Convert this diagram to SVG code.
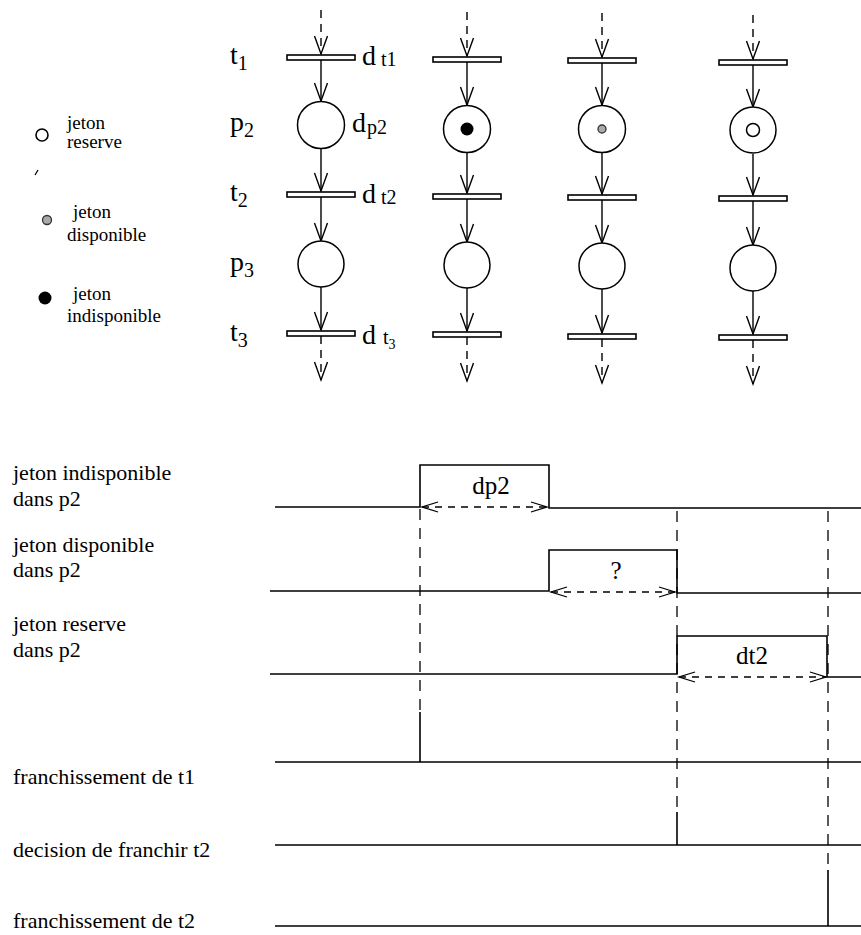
<svg xmlns="http://www.w3.org/2000/svg" width="861" height="935" viewBox="0 0 861 935">
<defs>
<marker id="v" markerUnits="userSpaceOnUse" markerWidth="24" markerHeight="16" refX="18" refY="7" orient="auto" overflow="visible">
<path d="M0,0.5 L18,7 L0,13.5" fill="none" stroke="#000" stroke-width="1.4" stroke-dasharray="none"/>
</marker>
<marker id="lt" markerUnits="userSpaceOnUse" markerWidth="20" markerHeight="14" refX="16" refY="6" orient="auto-start-reverse" overflow="visible">
<path d="M0,1 L16,6 L0,11" fill="none" stroke="#000" stroke-width="1.3" stroke-dasharray="none"/>
</marker>
</defs>
<style>
text{font-family:"Liberation Serif","Times New Roman",serif;fill:#000}
.lbl{font-size:28px}
.sub{font-size:20px}
.sub2{font-size:14px}
.leg{font-size:19px}
.tl{font-size:22px}
.dl{font-size:25px}
.bar{fill:#fff;stroke:#000;stroke-width:1.6}
.pl{fill:#fff;stroke:#000;stroke-width:1.5}
.arc{stroke:#000;stroke-width:1.4;fill:none;marker-end:url(#v)}
.dash{stroke-dasharray:8 6}
.sig{stroke:#000;stroke-width:1.6;fill:none}
.vd{stroke:#000;stroke-width:1.3;stroke-dasharray:11 8;fill:none}
.da{stroke:#000;stroke-width:1.3;stroke-dasharray:7 6;fill:none;marker-start:url(#lt);marker-end:url(#lt)}
</style>

<g id="legend">
<circle cx="42" cy="135" r="6" fill="#fff" stroke="#000" stroke-width="1.6"/>
<text class="leg" x="67" y="129">jeton</text>
<text class="leg" x="67" y="148">reserve</text>
<line x1="35" y1="175" x2="38" y2="170" stroke="#000" stroke-width="1.3"/>
<circle cx="47" cy="220" r="4.5" fill="#aaa" stroke="#333" stroke-width="1.3"/>
<text class="leg" x="73" y="218">jeton</text>
<text class="leg" x="67" y="241">disponible</text>
<circle cx="45" cy="298" r="6.5" fill="#000"/>
<text class="leg" x="73" y="300">jeton</text>
<text class="leg" x="67" y="322">indisponible</text>
</g>

<g id="net-labels">
<text class="lbl" x="230" y="64">t<tspan class="sub" dy="6">1</tspan></text>
<text class="lbl" x="230" y="131">p<tspan class="sub" dy="6">2</tspan></text>
<text class="lbl" x="230" y="201">t<tspan class="sub" dy="6">2</tspan></text>
<text class="lbl" x="230" y="271">p<tspan class="sub" dy="6">3</tspan></text>
<text class="lbl" x="230" y="341">t<tspan class="sub" dy="6">3</tspan></text>
<text class="lbl" x="362" y="65">d<tspan class="sub" dx="5" dy="1">t1</tspan></text>
<text class="lbl" x="352" y="132">d<tspan class="sub" dx="1" dy="2">p2</tspan></text>
<text class="lbl" x="362" y="203">d<tspan class="sub" dx="5" dy="1">t2</tspan></text>
<text class="lbl" x="362" y="344">d<tspan class="sub" dx="7" dy="0">t</tspan><tspan class="sub2" dy="5">3</tspan></text>
</g>

<g id="arcs">
<line class="arc dash" x1="321" y1="10" x2="321" y2="54"/>
<line class="arc" x1="321" y1="60" x2="321" y2="101"/>
<line class="arc" x1="321" y1="149" x2="321" y2="191"/>
<line class="arc" x1="321" y1="197" x2="321" y2="241"/>
<line class="arc" x1="321" y1="287" x2="321" y2="330"/>
<line class="arc dash" x1="321" y1="336" x2="321" y2="380"/>

<line class="arc dash" x1="467" y1="12" x2="467" y2="56"/>
<line class="arc" x1="467" y1="62" x2="467" y2="105"/>
<line class="arc" x1="467" y1="153" x2="467" y2="193"/>
<line class="arc" x1="467" y1="199" x2="467" y2="242"/>
<line class="arc" x1="467" y1="288" x2="467" y2="331"/>
<line class="arc dash" x1="467" y1="337" x2="467" y2="381"/>

<line class="arc dash" x1="602" y1="13" x2="602" y2="57"/>
<line class="arc" x1="602" y1="63" x2="602" y2="105"/>
<line class="arc" x1="602" y1="153" x2="602" y2="194"/>
<line class="arc" x1="602" y1="200" x2="602" y2="243"/>
<line class="arc" x1="602" y1="289" x2="602" y2="333"/>
<line class="arc dash" x1="602" y1="339" x2="602" y2="383"/>

<line class="arc dash" x1="753" y1="15" x2="753" y2="59"/>
<line class="arc" x1="753" y1="65" x2="753" y2="107"/>
<line class="arc" x1="753" y1="154" x2="753" y2="195"/>
<line class="arc" x1="753" y1="201" x2="753" y2="245"/>
<line class="arc" x1="753" y1="291" x2="753" y2="334"/>
<line class="arc dash" x1="753" y1="340" x2="753" y2="384"/>
</g>

<g id="col1">
<g id="c1-t1"><rect class="bar" x="287" y="55" width="68" height="5"/></g>
<g id="c1-p2"><circle class="pl" cx="321" cy="125" r="23.5"/></g>
<g id="c1-t2"><rect class="bar" x="287" y="192" width="68" height="5"/></g>
<g id="c1-p3"><circle class="pl" cx="321" cy="264" r="23"/></g>
<g id="c1-t3"><rect class="bar" x="287" y="331" width="68" height="5"/></g>
</g>
<g id="col2">
<g id="c2-t1"><rect class="bar" x="433" y="57" width="68" height="5"/></g>
<g id="c2-p2"><circle class="pl" cx="467" cy="129" r="23.5"/><circle cx="467" cy="129" r="6.5" fill="#000"/></g>
<g id="c2-t2"><rect class="bar" x="433" y="194" width="68" height="5"/></g>
<g id="c2-p3"><circle class="pl" cx="467" cy="265" r="23"/></g>
<g id="c2-t3"><rect class="bar" x="433" y="332" width="68" height="5"/></g>
</g>
<g id="col3">
<g id="c3-t1"><rect class="bar" x="568" y="58" width="68" height="5"/></g>
<g id="c3-p2"><circle class="pl" cx="602" cy="129" r="23.5"/><circle cx="602" cy="129" r="4" fill="#aaa" stroke="#333" stroke-width="1.3"/></g>
<g id="c3-t2"><rect class="bar" x="568" y="195" width="68" height="5"/></g>
<g id="c3-p3"><circle class="pl" cx="602" cy="266" r="23"/></g>
<g id="c3-t3"><rect class="bar" x="568" y="334" width="68" height="5"/></g>
</g>
<g id="col4">
<g id="c4-t1"><rect class="bar" x="719" y="60" width="68" height="5"/></g>
<g id="c4-p2"><circle class="pl" cx="753" cy="130" r="23"/><circle cx="753" cy="130" r="6.5" fill="none" stroke="#000" stroke-width="1.5"/></g>
<g id="c4-t2"><rect class="bar" x="719" y="196" width="68" height="5"/></g>
<g id="c4-p3"><circle class="pl" cx="753" cy="268" r="23"/></g>
<g id="c4-t3"><rect class="bar" x="719" y="335" width="68" height="5"/></g>
</g>

<g id="timing-labels">
<text class="tl" x="13" y="480">jeton indisponible</text>
<text class="tl" x="13" y="506">dans p2</text>
<text class="tl" x="13" y="552">jeton disponible</text>
<text class="tl" x="13" y="577">dans p2</text>
<text class="tl" x="13" y="631">jeton reserve</text>
<text class="tl" x="13" y="657">dans p2</text>
<text class="tl" x="13" y="784">franchissement de t1</text>
<text class="tl" x="13" y="857">decision de franchir t2</text>
<text class="tl" x="13" y="928">franchissement de t2</text>
</g>

<g id="signals">
<path class="sig" d="M275,507 H420 V465 H549 V508 H861"/>
<path class="sig" d="M270,591 H549 V550 H677 V593 H861"/>
<path class="sig" d="M270,674 H677 V636 H827 V677 H861"/>
<path class="sig" d="M275,762 H861 M420,762 V712"/>
<path class="sig" d="M275,845 H861 M677,845 V812"/>
<path class="sig" d="M275,926 H861 M828,926 V870"/>
</g>

<g id="guides">
<line class="vd" x1="420" y1="509" x2="420" y2="712"/>
<line class="vd" x1="677" y1="511" x2="677" y2="812"/>
<line class="vd" x1="828" y1="511" x2="828" y2="870"/>
</g>

<g id="durations">
<line class="da" x1="422" y1="507" x2="547" y2="507"/>
<text class="dl" x="491" y="494" text-anchor="middle">dp2</text>
<line class="da" x1="551" y1="592" x2="675" y2="592"/>
<text class="dl" x="616" y="579" text-anchor="middle">?</text>
<line class="da" x1="679" y1="677" x2="826" y2="677"/>
<text class="dl" x="752" y="664" text-anchor="middle">dt2</text>
</g>
</svg>
